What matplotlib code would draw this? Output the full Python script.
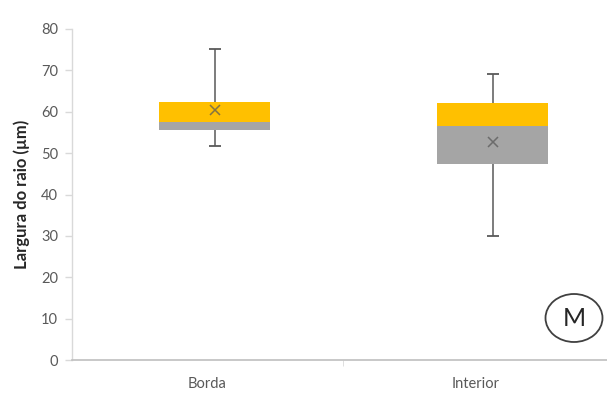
import matplotlib
matplotlib.use("Agg")
import matplotlib.pyplot as plt
from matplotlib.patches import Ellipse
import numpy as np

categories = ["Borda", "Interior"]
q1 = [55.5, 47.3]
median = [57.5, 56.6]
q3 = [62.3, 62.2]
whisker_min = [51.7, 30.0]
whisker_max = [75.2, 69.1]
means = [60.5, 52.8]
yticks = [0, 10, 20, 30, 40, 50, 60, 70, 80]

plt.rcParams['font.family'] = ['Lato', 'DejaVu Sans']

W, H = 607, 394
fig = plt.figure(figsize=(W / 100, H / 100), dpi=100)
ax = fig.add_axes([72 / W, (H - 360) / H, (607 - 72) / W, (360 - 29) / H])

unit = 271.0  # pixels per category
ax.set_xlim(0, (607 - 72) / unit)
ax.set_ylim(0, 80)

label_pos = np.array([0.5, 1.49])
box_pos = np.array([0.526, 1.553])
box_w = 0.41

gray = "#A5A5A5"
yellow = "#FFC000"
dark = "#595959"

for i in range(len(categories)):
    x = box_pos[i]
    ax.vlines(x, whisker_min[i], q1[i], color=dark, lw=1.1, zorder=2)
    ax.vlines(x, q3[i], whisker_max[i], color=dark, lw=1.1, zorder=2)
    cap = 0.022
    ax.hlines([whisker_min[i], whisker_max[i]], x - cap, x + cap, color=dark, lw=1.3, zorder=2)
    ax.bar(x, median[i] - q1[i], bottom=q1[i], width=box_w, color=gray, zorder=3)
    ax.bar(x, q3[i] - median[i], bottom=median[i], width=box_w, color=yellow, zorder=3)
    ax.plot(x, means[i], marker="x", color=dark, ms=7, mew=1.1, zorder=4, alpha=0.75)

ax.set_yticks(yticks)
ax.set_yticklabels([str(v) for v in yticks], fontsize=10.5, color="#595959")
ax.tick_params(axis='y', length=5, color="#D9D9D9", width=1, pad=5)
ax.set_xticks(label_pos)
ax.set_xticklabels(categories, fontsize=10.5, color="#595959")
ax.set_xticks([1.0], minor=True)
ax.tick_params(axis='x', which='major', length=0, pad=12)
ax.tick_params(axis='x', which='minor', length=4, color="#D9D9D9")

for s in ["top", "right"]:
    ax.spines[s].set_visible(False)
ax.spines["left"].set_color("#D9D9D9")
ax.spines["bottom"].set_color("#BFBFBF")
ax.spines["left"].set_linewidth(1)
ax.spines["bottom"].set_linewidth(1.2)

fig.text(22 / W, 1 - 194 / H, "Largura do raio (µm)", rotation=90, ha="center", va="center",
         fontsize=12, fontweight="bold", color="#262626")

# "M" ellipse annotation
ell = Ellipse((574 / W, 1 - 318 / H), 57 / W, 48 / H, transform=fig.transFigure,
              fill=False, edgecolor="#404040", lw=1.3)
fig.patches.append(ell)
fig.text(574 / W, 1 - 319 / H, "M", ha="center", va="center", fontsize=18, color="#262626")

fig.savefig("out.png", dpi=100)
